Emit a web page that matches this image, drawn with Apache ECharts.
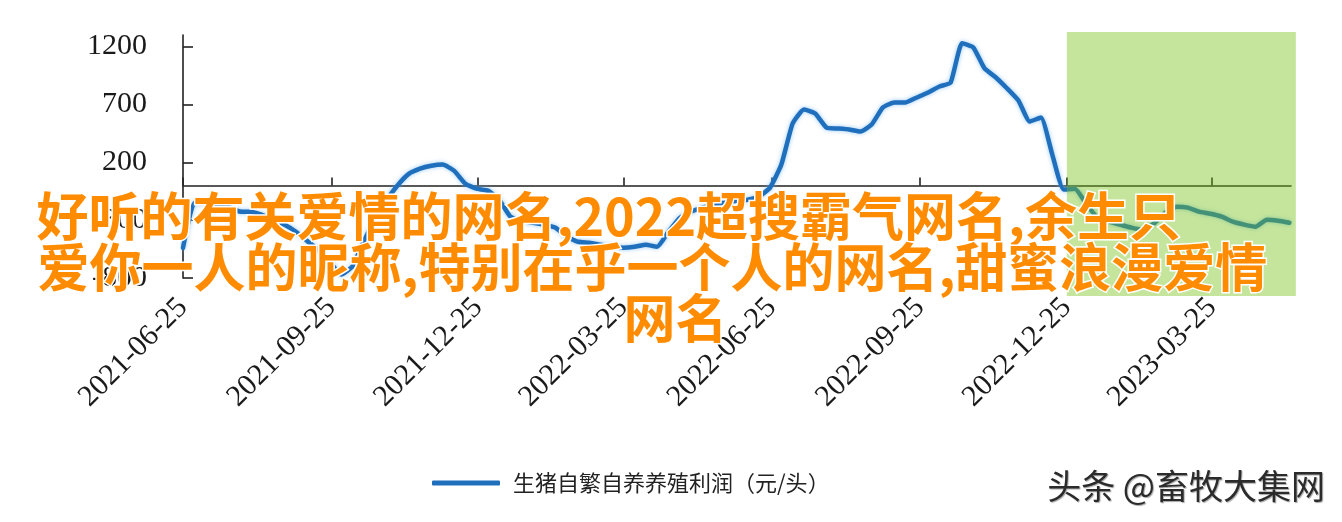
<!DOCTYPE html>
<html><head><meta charset="utf-8">
<script src="https://cdn.jsdelivr.net/npm/echarts@6/dist/echarts.min.js"></script>
<style>html,body{margin:0;padding:0;background:#fff}#c{width:1342px;height:522px}</style>
</head><body><div id="c"></div>
<script>
// ---------- data ----------
const seriesName = '生猪自繁自养养殖利润（元/头）';
const startDate = '2021-06-25';   // first weekly observation
const axisEnd = '2023-05-13';
const weekStep = 7;               // days between observations
const profit = [
  -540, -150, -150, -160, -185, -225, -228, -255, -300, -340,
  -400, -480, -560, -660, -770, -700, -487, -290, -132, 0,
  100, 145, 170, 180, 128, 15, -28, -45, -123, -270,
  -305, -322, -340, -365, -443, -487, -495, -513, -530, -538,
  -530, -513, -530, -400, -280, -227, -192, -166, -149, -132,
  -123, -97, -19, 180, 535, 656, 622, 500, 492, 483,
  466, 526, 674, 717, 717, 760, 803, 855, 890, 1228,
  1193, 1011, 933, 838, 734, 552, 587, 266, -36, -28,
  -158, -280, -313, -339, -365, -383, -330, -236, -184, -192,
  -227, -245, -270, -313, -339, -357, -296, -305, -322
];
const xTickLabels = ['2021-06-25','2021-09-25','2021-12-25','2022-03-25','2022-06-25','2022-09-25','2022-12-25','2023-03-25'];
const yTickValues = [-800, -300, 200, 700, 1200];
const yMin = -800, yMax = 1300, yInterval = 500;
const shadeFrom = '2022-12-25', shadeTo = '2023-05-16', shadeTop = 1325, shadeBottom = -955;
const overlayLines = ['好听的有关爱情的网名,2022超搜霸气网名,余生只', '爱你一人的昵称,特别在乎一个人的网名,甜蜜浪漫爱情', '网名'];
const watermark = '头条 @畜牧大集网';

// ---------- helpers ----------
const DAY = 86400000;
function utc(s){ const p = s.split('-').map(Number); return Date.UTC(p[0], p[1] - 1, p[2]); }
const t0 = utc(startDate);
function dayOf(s){ return Math.round((utc(s) - t0) / DAY); }
function pad(n){ return n < 10 ? '0' + n : '' + n; }
function label(day){ const d = new Date(t0 + Math.round(day) * DAY); return d.getUTCFullYear() + '-' + pad(d.getUTCMonth() + 1) + '-' + pad(d.getUTCDate()); }
const seriesData = profit.map((v, i) => [i * weekStep, v]);
const xTickDays = xTickLabels.map(dayOf);

const chart = echarts.init(document.getElementById('c'), null, {renderer: 'canvas'});
const serif = '"Liberation Serif", "Times New Roman", serif';
const cjk = '"Noto Sans CJK SC", sans-serif';

chart.setOption({
  backgroundColor: '#ffffff',
  animation: false,
  grid: {left: 183, right: 51, top: 35, bottom: 244},
  xAxis: [{
    type: 'value', min: 0, max: dayOf(axisEnd),
    axisLine: {show: true, onZero: true, lineStyle: {color: '#222', width: 1.6}},
    axisTick: {show: true, inside: true, length: 8, customValues: xTickDays, lineStyle: {color: '#222', width: 1.6}},
    axisLabel: {show: false},
    splitLine: {show: false}
  }, {
    type: 'value', min: 0, max: dayOf(axisEnd), position: 'bottom',
    axisLine: {show: false, onZero: false},
    axisTick: {show: false},
    splitLine: {show: false},
    axisLabel: {
      show: true, customValues: xTickDays, rotate: 45, margin: 25,
      fontFamily: serif, fontSize: 30, color: '#1a1a1a',
      formatter: v => label(v)
    }
  }],
  yAxis: {
    type: 'value', min: yMin, max: yMax, interval: yInterval,
    axisLine: {show: true, lineStyle: {color: '#222', width: 1.6}},
    axisTick: {show: true, inside: true, length: 10, customValues: yTickValues, lineStyle: {color: '#222', width: 1.6}},
    axisLabel: {customValues: yTickValues, margin: 36, fontFamily: serif, fontSize: 30, color: '#1a1a1a', formatter: v => String(v)},
    splitLine: {show: false}
  },
  legend: {
    data: [seriesName], left: 427, top: 467, itemWidth: 68, itemHeight: 5, itemGap: 10,
    icon: 'roundRect',
    itemStyle: {color: '#1f6fbd'},
    textStyle: {fontFamily: cjk, fontSize: 22, color: '#222', padding: [0, 0, 0, 8]}
  },
  series: [{
    name: seriesName, type: 'line', xAxisIndex: 0, data: seriesData,
    showSymbol: false, symbol: 'none', smooth: 0.15, z: 2,
    lineStyle: {color: '#1f6fbd', width: 4.5, shadowColor: 'rgba(110,180,240,0.7)', shadowBlur: 4, cap: 'round', join: 'round'},
    itemStyle: {color: '#1f6fbd'}
  }]
});

// shaded forecast window, positioned through the chart's own scales
const c = {xAxisIndex: 0, yAxisIndex: 0};
const p1 = chart.convertToPixel(c, [dayOf(shadeFrom), shadeTop]);
const p2 = chart.convertToPixel(c, [dayOf(shadeTo), shadeBottom]);
const textStyle = {font: 'bold 52px ' + cjk, fill: '#ff8c00', stroke: '#ffffff', lineWidth: 3, strokeFirst: true};
chart.setOption({
  graphic: [
    {type: 'rect', z: 10, shape: {x: p1[0], y: p1[1], width: p2[0] - p1[0], height: p2[1] - p1[1]}, style: {fill: 'rgba(117,192,20,0.42)'}},
    {type: 'text', left: 35, top: 189, z: 100, style: Object.assign({text: overlayLines[0]}, textStyle)},
    {type: 'text', left: 36, top: 240, z: 100, style: Object.assign({text: overlayLines[1]}, textStyle)},
    {type: 'text', left: 622, top: 291, z: 100, style: Object.assign({text: overlayLines[2]}, textStyle)},
    {type: 'text', right: 17, top: 469, z: 100, style: {text: watermark, font: '34px ' + cjk, fill: '#2b2b2b', textShadowColor: 'rgba(0,0,0,0.35)', textShadowBlur: 1, textShadowOffsetX: 1, textShadowOffsetY: 1}}
  ]
});
</script>
</body></html>
